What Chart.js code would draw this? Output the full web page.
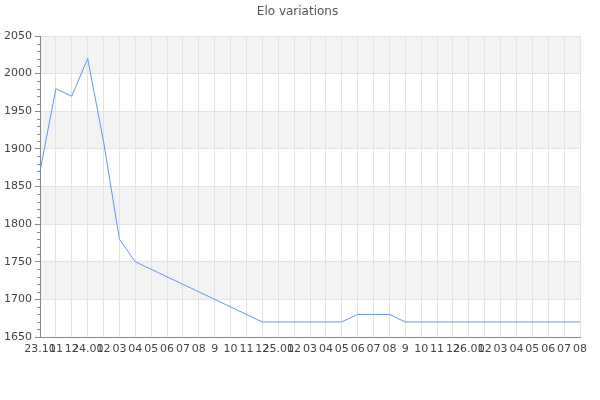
<!DOCTYPE html>
<html>
<head>
<meta charset="utf-8">
<title>Elo variations</title>
<script src="https://cdn.jsdelivr.net/npm/chart.js@4/dist/chart.umd.min.js"></script>
<style>
  html, body { margin: 0; padding: 0; background: #fff; }
  #wrap { width: 600px; height: 400px; }
</style>
</head>
<body>
<div id="wrap"><canvas id="elo"></canvas></div>
<script>
// data
const labels = ['23.10', '11', '12', '24.01', '02', '03', '04', '05', '06', '07', '08', '9', '10', '11', '12',
  '25.01', '02', '03', '04', '05', '06', '07', '08', '9', '10', '11', '12',
  '26.01', '02', '03', '04', '05', '06', '07', '08'];
const elo = [1870, 1980, 1970, 2020, 1910, 1780, 1750, 1740, 1730, 1720, 1710, 1700, 1690, 1680, 1670,
  1670, 1670, 1670, 1670, 1670, 1680, 1680, 1680, 1670, 1670, 1670, 1670,
  1670, 1670, 1670, 1670, 1670, 1670, 1670, 1670];
const yMin = 1650, yMax = 2050, yStep = 50, yMinorStep = 10;

const FONT = 'DejaVu Sans';

// grey bands between every other pair of y ticks, starting at the top
const bands = {
  id: 'bands',
  beforeDraw(chart) {
    const { ctx, chartArea: a, scales: { y } } = chart;
    ctx.save();
    ctx.fillStyle = '#f3f3f3';
    for (let v = yMax; v > yMin; v -= 2 * yStep) {
      const top = y.getPixelForValue(v);
      const bot = y.getPixelForValue(v - yStep);
      ctx.fillRect(a.left, top, a.right - a.left, bot - top);
    }
    ctx.restore();
  }
};

// short minor ticks on the y axis
const minorTicks = {
  id: 'minorTicks',
  afterDraw(chart) {
    const { ctx, chartArea: a, scales: { y } } = chart;
    ctx.save();
    ctx.strokeStyle = '#888';
    ctx.lineWidth = 1;
    ctx.beginPath();
    for (let v = yMin; v <= yMax; v += yMinorStep) {
      if (v % yStep === 0) continue;
      const py = Math.round(y.getPixelForValue(v)) + 0.5;
      ctx.moveTo(a.left - 3, py);
      ctx.lineTo(a.left, py);
    }
    ctx.stroke();
    ctx.restore();
  }
};

new Chart(document.getElementById('elo').getContext('2d'), {
  type: 'line',
  data: {
    labels: labels,
    datasets: [{
      label: 'Elo',
      data: elo,
      borderColor: '#6495ed',
      borderWidth: 1,
      pointRadius: 0,
      fill: false,
      tension: 0
    }]
  },
  options: {
    responsive: true,
    maintainAspectRatio: false,
    animation: false,
    layout: { padding: { left: 0, right: 5, top: 0, bottom: 0 } },
    plugins: {
      legend: { display: false },
      tooltip: { enabled: false },
      title: {
        display: true,
        text: 'Elo variations',
        color: '#555',
        font: { family: FONT, size: 12, weight: 'normal' },
        padding: { top: 5, bottom: 16.6 }
      }
    },
    scales: {
      x: {
        offset: false,
        grid: { color: '#e3e3e3', drawTicks: false },
        border: { color: '#888' },
        ticks: {
          autoSkip: false, maxRotation: 0, minRotation: 0, padding: 6,
          color: '#444', font: { family: FONT, size: 11 }
        },
        afterFit(s) { s.height = 63; }
      },
      y: {
        min: yMin, max: yMax,
        grid: { color: '#e3e3e3', tickLength: 5, tickColor: '#888' },
        border: { color: '#888' },
        ticks: {
          stepSize: yStep, padding: 3,
          color: '#444', font: { family: FONT, size: 11 },
          callback: v => String(v)
        },
        afterFit(s) { s.width = 40; }
      },
      // empty spacer on the right so the chart area ends at the same place
      spacer: {
        type: 'linear',
        position: 'right',
        grid: { display: false },
        border: { display: false },
        ticks: { display: false },
        afterFit(s) { s.width = 15; }
      }
    }
  },
  plugins: [bands, minorTicks]
});
</script>
</body>
</html>
